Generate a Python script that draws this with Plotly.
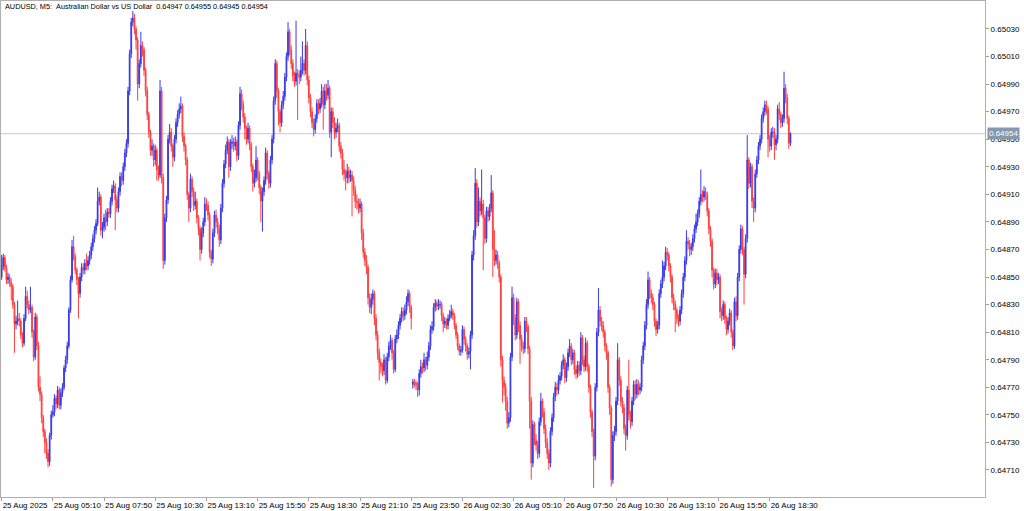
import pandas as pd
import plotly.graph_objects as go

# AUDUSD M5 bars, prices stored as 0.64000 + value * 0.00001
BASE = 0.64
UNIT = 0.00001
START = "2025-08-25 02:30"

opens = [
    850, 858, 864, 857, 848, 850, 846, 843, 830, 816,
    818, 820, 818, 808, 802, 820, 836, 830, 826, 828,
    810, 792, 821, 800, 770, 765, 748, 738, 730, 722,
    716, 735, 750, 752, 762, 758, 768, 757, 766, 770,
    784, 790, 800, 826, 848, 872, 865, 855, 848, 838,
    850, 857, 855, 860, 858, 862, 866, 872, 878, 884,
    889, 905, 908, 884, 886, 893, 890, 897, 896, 905,
    914, 916, 906, 900, 912, 923, 920, 930, 940, 947,
    985, 1012, 1035, 1038, 1030, 1022, 990, 1005, 1018, 1015,
    1000, 985, 968, 955, 942, 945, 935, 942, 928, 924,
    985, 922, 862, 893, 906, 950, 955, 945, 937, 950,
    962, 968, 972, 974, 952, 945, 935, 910, 900, 921,
    912, 902, 905, 893, 885, 870, 882, 890, 903, 902,
    895, 868, 863, 882, 895, 890, 885, 877, 900, 918,
    932, 942, 948, 930, 947, 948, 945, 948, 938, 960,
    983, 975, 966, 958, 950, 958, 946, 930, 918, 922,
    935, 925, 915, 905, 912, 920, 940, 925, 918, 935,
    950, 978, 1005, 985, 970, 962, 975, 981, 995, 1010,
    1028, 1015, 1005, 996, 992, 998, 997, 995, 1000, 1005,
    1000, 1018, 993, 980, 970, 962, 957, 965, 976, 972,
    976, 985, 975, 985, 982, 987, 955, 970, 962, 955,
    958, 960, 945, 940, 928, 925, 922, 927, 922, 924,
    920, 913, 905, 904, 900, 903, 882, 868, 862, 857,
    835, 828, 834, 838, 820, 808, 795, 788, 785, 782,
    790, 775, 792, 800, 804, 795, 783, 805, 808, 815,
    820, 825, 822, 826, 832, 838, 828, 772, 774, 773,
    772, 768, 780, 785, 784, 790, 786, 792, 800, 812,
    814, 828, 831, 829, 830, 830, 822, 816, 818, 815,
    820, 822, 825, 822, 815, 808, 800, 796, 797, 812,
    805, 800, 794, 796, 808, 866, 880, 918, 890, 905,
    898, 903, 893, 878, 898, 894, 900, 911, 870, 862,
    866, 860, 850, 790, 775, 770, 760, 744, 748, 792,
    835, 820, 808, 832, 815, 805, 800, 798, 818, 814,
    798, 760, 715, 743, 732, 728, 722, 745, 760, 752,
    740, 730, 722, 715, 738, 748, 763, 770, 768, 775,
    778, 786, 790, 777, 785, 795, 800, 790, 795, 783,
    780, 786, 782, 806, 790, 785, 802, 785, 770, 752,
    738, 720, 770, 810, 826, 818, 815, 810, 800, 795,
    770, 755, 703, 735, 738, 760, 790, 775, 760, 755,
    740, 735, 768, 750, 745, 760, 772, 765, 772, 768,
    770, 790, 800, 815, 830, 848, 838, 835, 830, 818,
    812, 815, 838, 845, 850, 858, 868, 866, 858, 850,
    835, 830, 826, 820, 818, 826, 838, 850, 862, 876,
    874, 870, 872, 878, 885, 890, 896, 905, 910, 908,
    912, 910, 898, 885, 876, 855, 845, 853, 848, 850,
    825, 822, 830, 820, 812, 818, 824, 810, 800, 832,
    822, 850, 870, 885, 870, 852, 878, 935, 918, 930,
    905, 900, 925, 935, 945, 950, 965, 970, 975, 972,
    950, 945, 955, 955, 946, 950, 972, 968, 962, 965,
    987, 980, 965, 947,
]

highs = [
    866, 867, 866, 859, 853, 852, 849, 845, 832, 822,
    833, 824, 820, 810, 823, 843, 840, 833, 843, 830,
    812, 824, 823, 803, 778, 767, 750, 740, 733, 725,
    737, 753, 757, 765, 764, 771, 770, 769, 773, 786,
    793, 803, 828, 851, 877, 880, 867, 857, 850, 853,
    860, 860, 863, 867, 865, 869, 875, 881, 887, 892,
    915, 912, 910, 890, 896, 899, 900, 900, 908, 917,
    920, 918, 909, 915, 926, 926, 933, 943, 950, 988,
    1015, 1038, 1043, 1041, 1032, 1024, 1008, 1028, 1021, 1017,
    1002, 988, 970, 957, 950, 947, 946, 944, 931, 993,
    988, 925, 896, 909, 953, 961, 958, 947, 953, 965,
    971, 976, 981, 976, 955, 947, 937, 912, 925, 923,
    915, 912, 907, 895, 887, 886, 893, 908, 907, 905,
    897, 870, 885, 898, 899, 893, 888, 903, 921, 935,
    946, 952, 950, 950, 953, 951, 952, 950, 963, 988,
    986, 978, 969, 960, 962, 960, 948, 932, 928, 945,
    937, 927, 917, 915, 923, 944, 942, 927, 938, 953,
    981, 1008, 1007, 987, 972, 978, 985, 998, 1013, 1035,
    1030, 1018, 1008, 999, 1036, 1001, 1000, 1010, 1021, 1008,
    1030, 1021, 996, 983, 973, 965, 968, 979, 979, 980,
    990, 988, 990, 990, 993, 989, 973, 973, 966, 962,
    965, 962, 948, 943, 935, 928, 932, 930, 928, 927,
    923, 916, 910, 907, 907, 905, 885, 871, 866, 859,
    838, 838, 841, 840, 823, 811, 798, 791, 788, 794,
    792, 795, 803, 808, 806, 797, 808, 812, 818, 823,
    828, 828, 830, 836, 841, 840, 830, 776, 776, 775,
    774, 783, 790, 788, 795, 792, 796, 803, 815, 818,
    831, 834, 833, 834, 833, 832, 824, 821, 820, 823,
    826, 830, 827, 824, 817, 810, 802, 800, 815, 814,
    807, 802, 799, 811, 869, 884, 929, 921, 915, 908,
    928, 906, 895, 901, 901, 903, 924, 913, 884, 870,
    869, 862, 852, 793, 778, 773, 763, 752, 795, 843,
    838, 823, 835, 834, 818, 808, 803, 821, 821, 816,
    800, 763, 746, 745, 736, 731, 748, 766, 762, 755,
    743, 733, 725, 741, 751, 766, 774, 773, 779, 781,
    789, 794, 792, 788, 798, 805, 802, 798, 797, 786,
    789, 789, 810, 808, 793, 806, 804, 787, 772, 754,
    740, 773, 813, 842, 829, 821, 818, 812, 802, 797,
    772, 757, 738, 742, 763, 802, 792, 778, 763, 758,
    743, 771, 790, 753, 763, 775, 775, 776, 775, 773,
    793, 803, 818, 834, 854, 850, 841, 838, 832, 820,
    818, 841, 848, 862, 861, 872, 871, 868, 860, 852,
    838, 833, 828, 823, 829, 841, 853, 865, 884, 879,
    877, 875, 881, 888, 896, 899, 908, 928, 913, 916,
    915, 912, 900, 887, 878, 857, 856, 856, 853, 852,
    828, 833, 832, 822, 821, 827, 826, 812, 835, 836,
    853, 873, 888, 887, 872, 881, 953, 937, 933, 932,
    908, 928, 938, 948, 953, 968, 973, 978, 978, 974,
    953, 958, 959, 958, 953, 975, 977, 970, 968, 999,
    990, 983, 967, 955,
]

lows = [
    848, 855, 854, 845, 845, 843, 833, 827, 795, 812,
    815, 814, 805, 799, 800, 818, 827, 823, 824, 806,
    789, 790, 797, 767, 760, 744, 734, 722, 718, 712,
    713, 732, 748, 749, 754, 755, 754, 754, 763, 768,
    781, 787, 798, 824, 846, 862, 852, 844, 820, 835,
    847, 852, 852, 855, 855, 859, 863, 869, 875, 881,
    887, 902, 880, 878, 883, 884, 887, 893, 893, 902,
    911, 884, 897, 897, 909, 916, 917, 927, 937, 944,
    982, 1009, 1032, 1026, 1015, 978, 987, 1002, 1010, 996,
    981, 964, 951, 938, 938, 930, 931, 920, 920, 922,
    918, 856, 859, 890, 903, 947, 941, 930, 934, 947,
    959, 965, 969, 948, 941, 931, 906, 890, 897, 908,
    898, 899, 889, 880, 862, 867, 879, 887, 898, 891,
    864, 858, 860, 879, 886, 881, 872, 874, 897, 915,
    929, 939, 922, 927, 943, 941, 942, 934, 935, 957,
    971, 962, 950, 946, 947, 942, 926, 912, 915, 919,
    920, 910, 890, 883, 909, 917, 921, 914, 915, 932,
    947, 975, 980, 960, 955, 959, 972, 978, 992, 1007,
    1011, 1001, 992, 988, 989, 964, 990, 992, 997, 996,
    997, 989, 976, 966, 958, 952, 954, 962, 968, 969,
    973, 957, 972, 978, 979, 951, 937, 958, 950, 951,
    955, 941, 936, 924, 920, 913, 918, 918, 919, 894,
    909, 900, 899, 896, 897, 877, 864, 858, 852, 830,
    824, 823, 830, 815, 804, 790, 775, 780, 778, 779,
    772, 773, 789, 797, 790, 780, 781, 802, 805, 812,
    817, 818, 819, 823, 829, 824, 812, 769, 770, 768,
    763, 764, 777, 780, 781, 782, 783, 789, 797, 809,
    811, 825, 826, 826, 827, 818, 810, 813, 812, 812,
    818, 820, 819, 812, 805, 797, 793, 793, 795, 801,
    796, 790, 791, 783, 805, 862, 877, 886, 887, 894,
    895, 855, 874, 875, 890, 891, 897, 850, 858, 859,
    856, 846, 785, 759, 764, 753, 740, 741, 745, 789,
    815, 804, 805, 810, 787, 796, 794, 795, 810, 794,
    740, 703, 712, 728, 724, 718, 719, 742, 748, 736,
    726, 718, 710, 712, 735, 745, 760, 764, 765, 772,
    775, 783, 773, 774, 782, 792, 786, 787, 779, 776,
    777, 778, 779, 786, 781, 782, 781, 766, 748, 734,
    697, 717, 767, 807, 814, 811, 806, 796, 790, 766,
    750, 698, 700, 731, 735, 757, 771, 756, 751, 736,
    724, 732, 746, 740, 742, 757, 761, 762, 764, 765,
    767, 787, 797, 812, 827, 834, 831, 826, 814, 807,
    809, 812, 835, 842, 847, 855, 862, 854, 846, 831,
    826, 810, 816, 814, 815, 823, 835, 847, 859, 870,
    865, 866, 869, 875, 882, 887, 893, 902, 904, 905,
    906, 894, 881, 872, 850, 841, 842, 844, 845, 820,
    818, 819, 816, 808, 809, 815, 806, 797, 798, 818,
    819, 847, 867, 866, 830, 849, 875, 914, 915, 900,
    890, 897, 922, 932, 942, 947, 962, 967, 968, 937,
    941, 942, 951, 935, 942, 947, 964, 958, 959, 962,
    976, 961, 943, 945,
]

closes = [
    858, 864, 857, 848, 850, 846, 843, 830, 816, 818,
    820, 818, 808, 802, 820, 836, 830, 826, 828, 810,
    792, 821, 800, 770, 765, 748, 738, 730, 722, 716,
    735, 750, 752, 762, 758, 768, 757, 766, 770, 784,
    790, 800, 826, 848, 872, 865, 855, 848, 838, 850,
    857, 855, 860, 858, 862, 866, 872, 878, 884, 889,
    905, 908, 884, 886, 893, 890, 897, 896, 905, 914,
    916, 906, 900, 912, 923, 920, 930, 940, 947, 985,
    1012, 1035, 1038, 1030, 1022, 990, 1005, 1018, 1015, 1000,
    985, 968, 955, 942, 945, 935, 942, 928, 924, 985,
    922, 862, 893, 906, 950, 955, 945, 937, 950, 962,
    968, 972, 974, 952, 945, 935, 910, 900, 921, 912,
    902, 905, 893, 885, 870, 882, 890, 903, 902, 895,
    868, 863, 882, 895, 890, 885, 877, 900, 918, 932,
    942, 948, 930, 947, 948, 945, 948, 938, 960, 983,
    975, 966, 958, 950, 958, 946, 930, 918, 922, 935,
    925, 915, 905, 912, 920, 940, 925, 918, 935, 950,
    978, 1005, 985, 970, 962, 975, 981, 995, 1010, 1028,
    1015, 1005, 996, 992, 998, 997, 995, 1000, 1005, 1000,
    1018, 993, 980, 970, 962, 957, 965, 976, 972, 976,
    985, 975, 985, 982, 987, 955, 970, 962, 955, 958,
    960, 945, 940, 928, 925, 922, 927, 922, 924, 920,
    913, 905, 904, 900, 903, 882, 868, 862, 857, 835,
    828, 834, 838, 820, 808, 795, 788, 785, 782, 790,
    775, 792, 800, 804, 795, 783, 805, 808, 815, 820,
    825, 822, 826, 832, 838, 828, 820, 774, 773, 772,
    768, 780, 785, 784, 790, 786, 792, 800, 812, 814,
    828, 831, 829, 830, 830, 822, 816, 818, 815, 820,
    822, 825, 822, 815, 808, 800, 796, 797, 812, 805,
    800, 794, 796, 808, 866, 880, 918, 890, 905, 898,
    903, 893, 878, 898, 894, 900, 911, 870, 862, 866,
    860, 850, 790, 775, 770, 760, 744, 748, 792, 835,
    820, 808, 832, 815, 805, 800, 798, 818, 814, 798,
    760, 715, 743, 732, 728, 722, 745, 760, 752, 740,
    730, 722, 715, 738, 748, 763, 770, 768, 775, 778,
    786, 790, 777, 785, 795, 800, 790, 795, 783, 780,
    786, 782, 806, 790, 785, 802, 785, 770, 752, 738,
    720, 770, 810, 826, 818, 815, 810, 800, 795, 770,
    755, 703, 735, 738, 760, 790, 775, 760, 755, 740,
    735, 768, 750, 745, 760, 772, 765, 772, 768, 770,
    790, 800, 815, 830, 848, 838, 835, 830, 818, 812,
    815, 838, 845, 850, 858, 868, 866, 858, 850, 835,
    830, 826, 820, 818, 826, 838, 850, 862, 876, 874,
    870, 872, 878, 885, 890, 896, 905, 910, 908, 912,
    910, 898, 885, 876, 855, 845, 853, 848, 850, 825,
    822, 830, 820, 812, 818, 824, 810, 800, 832, 822,
    850, 870, 885, 870, 852, 878, 935, 918, 930, 905,
    900, 925, 935, 945, 950, 965, 970, 975, 972, 950,
    945, 955, 955, 946, 950, 972, 968, 962, 965, 987,
    980, 965, 947, 954,
]

price_ticks = [0.64710, 0.64730, 0.64750, 0.64770, 0.64790, 0.64810, 0.64830,
               0.64850, 0.64870, 0.64890, 0.64910, 0.64930, 0.64950, 0.64970,
               0.64990, 0.65010, 0.65030]
time_tick_labels = ["25 Aug 2025", "25 Aug 05:10", "25 Aug 07:50", "25 Aug 10:30",
                    "25 Aug 13:10", "25 Aug 15:50", "25 Aug 18:30", "25 Aug 21:10",
                    "25 Aug 23:50", "26 Aug 02:30", "26 Aug 05:10", "26 Aug 07:50",
                    "26 Aug 10:30", "26 Aug 13:10", "26 Aug 15:50", "26 Aug 18:30"]
last_price = 0.64954
title_text = ("AUDUSD, M5:\u00a0\u00a0Australian Dollar vs US Dollar\u00a0\u00a0"
              "0.64947 0.64955 0.64945 0.64954")

n = len(closes)
assert len(opens) == n and len(highs) == n and len(lows) == n, (len(opens), len(highs), len(lows), n)
bad = [i for i in range(n) if highs[i] < max(opens[i], closes[i]) or lows[i] > min(opens[i], closes[i])]
assert not bad, bad

times = pd.date_range(START, periods=n, freq="5min")
to_price = lambda arr: [round(BASE + v * UNIT, 5) for v in arr]

FONT = "Liberation Sans"

fig = go.Figure()
fig.add_trace(go.Candlestick(
    x=times,
    open=to_price(opens), high=to_price(highs), low=to_price(lows), close=to_price(closes),
    increasing=dict(line=dict(color="#2424e8", width=1), fillcolor="#2424e8"),
    decreasing=dict(line=dict(color="#ff2a2a", width=1), fillcolor="#ff2a2a"),
    whiskerwidth=0,
    opacity=0.9,
    hoverinfo="skip",
    showlegend=False,
))

bar = pd.Timedelta(minutes=5)
t0 = times[0]
x_range = [t0 - 0.4 * bar, t0 + 614.6 * bar]
tick_times = [t0 + 32 * k * bar for k in range(len(time_tick_labels))]

fig.add_shape(type="line", xref="paper", x0=0, x1=1, yref="y", y0=last_price, y1=last_price,
              line=dict(color="#c4c9d1", width=1), layer="below")

fig.add_annotation(xref="paper", yref="y", x=1, y=last_price, xanchor="left", yanchor="middle",
                   xshift=2, text="0.64954", showarrow=False,
                   font=dict(family=FONT, size=8, color="white"),
                   bgcolor="#8797ac", borderpad=1)

fig.add_annotation(xref="paper", yref="paper", x=0, y=1, xanchor="left", yanchor="top",
                   xshift=2, yshift=1, text=title_text, showarrow=False,
                   font=dict(family=FONT, size=7.3, color="black"))

fig.update_layout(
    width=1024, height=511,
    margin=dict(l=1, r=39, t=1, b=14, autoexpand=False),
    paper_bgcolor="white", plot_bgcolor="white",
    hovermode=False,
    showlegend=False,
    font=dict(family=FONT, size=8, color="black"),
    xaxis=dict(
        type="date", range=x_range, rangeslider=dict(visible=False),
        tickvals=tick_times, ticktext=time_tick_labels,
        ticks="outside", ticklen=3, tickcolor="#a0a0a0",
        ticklabelposition="outside right", tickangle=0,
        automargin=False,
        showgrid=False, zeroline=False,
        showline=True, linecolor="#b0b0b0", linewidth=1, mirror=True,
        tickfont=dict(family=FONT, size=8, color="black"),
    ),
    yaxis=dict(
        side="right", range=[0.646904, 0.650503],
        tickvals=price_ticks, ticktext=[f"{p:.5f}" for p in price_ticks],
        ticks="outside", ticklen=3, tickcolor="#a0a0a0",
        automargin=False,
        showgrid=False, zeroline=False,
        showline=True, linecolor="#b0b0b0", linewidth=1, mirror=True,
        tickfont=dict(family=FONT, size=8, color="black"),
    ),
)

fig.write_html(
    "out.html",
    config={"displayModeBar": False},
    post_script="document.body.style.margin='0px'; document.body.style.overflow='hidden';",
)
